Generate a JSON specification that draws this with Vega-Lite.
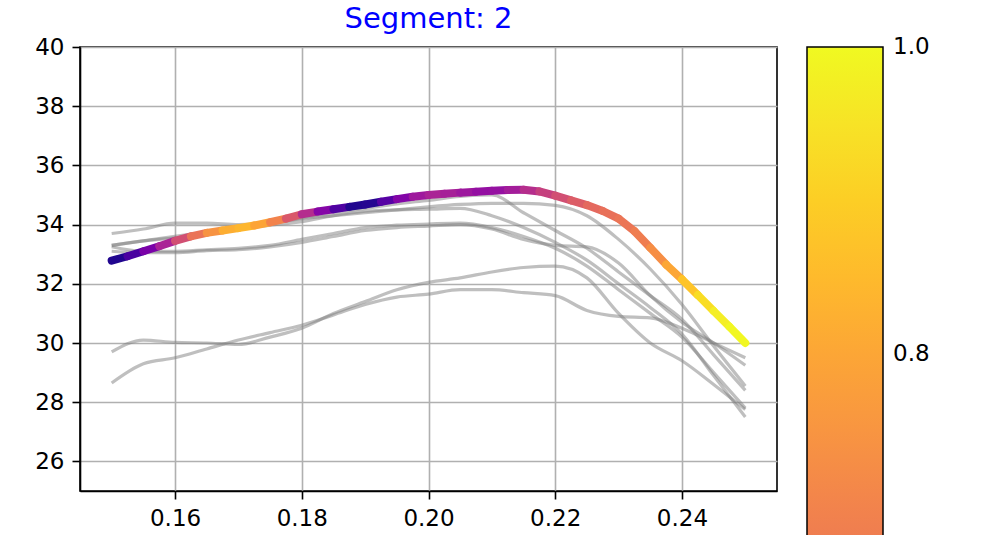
{
  "$schema": "https://vega.github.io/schema/vega-lite/v6.json",
  "autosize": {"type": "none"},
  "width": 697,
  "height": 444,
  "padding": {"left": 80, "top": 47, "right": 207, "bottom": 44},
  "background": "white",
  "title": {"text": "Segment: 2", "color": "blue", "fontSize": 29, "fontWeight": "normal", "font": "DejaVu Sans", "offset": 2, "anchor": "middle"},
  "config": {
    "font": "DejaVu Sans",
    "view": {"stroke": "black", "strokeWidth": 1.6},
    "axis": {"labelFont": "DejaVu Sans", "labelFontSize": 23, "labelColor": "black", "tickColor": "black", "tickWidth": 1.6, "tickSize": 8, "labelPadding": 8, "domainColor": "black", "domainWidth": 1.6, "gridColor": "#b0b0b0", "gridWidth": 1.6, "gridOpacity": 1, "title": null}
  },
  "datasets": {
    "gray": [
      {"id": 1, "x": 0.150, "y": 33.70}, {"id": 1, "x": 0.155, "y": 33.85}, {"id": 1, "x": 0.160, "y": 34.05}, {"id": 1, "x": 0.165, "y": 34.05}, {"id": 1, "x": 0.170, "y": 34.00}, {"id": 1, "x": 0.175, "y": 34.05}, {"id": 1, "x": 0.180, "y": 34.20}, {"id": 1, "x": 0.185, "y": 34.30}, {"id": 1, "x": 0.190, "y": 34.40}, {"id": 1, "x": 0.195, "y": 34.50}, {"id": 1, "x": 0.200, "y": 34.60}, {"id": 1, "x": 0.205, "y": 34.68}, {"id": 1, "x": 0.210, "y": 34.72}, {"id": 1, "x": 0.215, "y": 34.72}, {"id": 1, "x": 0.220, "y": 34.65}, {"id": 1, "x": 0.225, "y": 34.30}, {"id": 1, "x": 0.230, "y": 33.50}, {"id": 1, "x": 0.235, "y": 32.50}, {"id": 1, "x": 0.240, "y": 31.30}, {"id": 1, "x": 0.245, "y": 29.90}, {"id": 1, "x": 0.250, "y": 28.55},
      {"id": 2, "x": 0.150, "y": 33.30}, {"id": 2, "x": 0.155, "y": 33.45}, {"id": 2, "x": 0.160, "y": 33.60}, {"id": 2, "x": 0.165, "y": 33.75}, {"id": 2, "x": 0.170, "y": 33.90}, {"id": 2, "x": 0.175, "y": 34.05}, {"id": 2, "x": 0.180, "y": 34.22}, {"id": 2, "x": 0.185, "y": 34.40}, {"id": 2, "x": 0.190, "y": 34.55}, {"id": 2, "x": 0.195, "y": 34.70}, {"id": 2, "x": 0.200, "y": 34.82}, {"id": 2, "x": 0.205, "y": 34.95}, {"id": 2, "x": 0.210, "y": 35.00}, {"id": 2, "x": 0.215, "y": 34.40}, {"id": 2, "x": 0.220, "y": 33.80}, {"id": 2, "x": 0.225, "y": 33.20}, {"id": 2, "x": 0.230, "y": 32.40}, {"id": 2, "x": 0.235, "y": 31.60}, {"id": 2, "x": 0.240, "y": 30.80}, {"id": 2, "x": 0.245, "y": 29.60}, {"id": 2, "x": 0.250, "y": 28.40},
      {"id": 3, "x": 0.150, "y": 33.25}, {"id": 3, "x": 0.155, "y": 33.10}, {"id": 3, "x": 0.160, "y": 33.10}, {"id": 3, "x": 0.165, "y": 33.15}, {"id": 3, "x": 0.170, "y": 33.20}, {"id": 3, "x": 0.175, "y": 33.30}, {"id": 3, "x": 0.180, "y": 33.50}, {"id": 3, "x": 0.185, "y": 33.70}, {"id": 3, "x": 0.190, "y": 33.90}, {"id": 3, "x": 0.195, "y": 33.98}, {"id": 3, "x": 0.200, "y": 34.02}, {"id": 3, "x": 0.205, "y": 34.05}, {"id": 3, "x": 0.210, "y": 33.90}, {"id": 3, "x": 0.215, "y": 33.60}, {"id": 3, "x": 0.220, "y": 33.20}, {"id": 3, "x": 0.225, "y": 32.60}, {"id": 3, "x": 0.230, "y": 31.80}, {"id": 3, "x": 0.235, "y": 31.00}, {"id": 3, "x": 0.240, "y": 30.20}, {"id": 3, "x": 0.245, "y": 29.00}, {"id": 3, "x": 0.250, "y": 27.80},
      {"id": 4, "x": 0.150, "y": 33.10}, {"id": 4, "x": 0.155, "y": 33.05}, {"id": 4, "x": 0.160, "y": 33.05}, {"id": 4, "x": 0.165, "y": 33.12}, {"id": 4, "x": 0.170, "y": 33.15}, {"id": 4, "x": 0.175, "y": 33.25}, {"id": 4, "x": 0.180, "y": 33.40}, {"id": 4, "x": 0.185, "y": 33.60}, {"id": 4, "x": 0.190, "y": 33.80}, {"id": 4, "x": 0.195, "y": 33.90}, {"id": 4, "x": 0.200, "y": 33.95}, {"id": 4, "x": 0.205, "y": 34.00}, {"id": 4, "x": 0.210, "y": 33.85}, {"id": 4, "x": 0.215, "y": 33.50}, {"id": 4, "x": 0.220, "y": 33.30}, {"id": 4, "x": 0.225, "y": 33.25}, {"id": 4, "x": 0.230, "y": 32.70}, {"id": 4, "x": 0.235, "y": 31.60}, {"id": 4, "x": 0.240, "y": 30.70}, {"id": 4, "x": 0.245, "y": 30.00}, {"id": 4, "x": 0.250, "y": 29.25},
      {"id": 5, "x": 0.150, "y": 33.30}, {"id": 5, "x": 0.155, "y": 33.45}, {"id": 5, "x": 0.160, "y": 33.55}, {"id": 5, "x": 0.165, "y": 33.70}, {"id": 5, "x": 0.170, "y": 33.85}, {"id": 5, "x": 0.175, "y": 33.98}, {"id": 5, "x": 0.180, "y": 34.10}, {"id": 5, "x": 0.185, "y": 34.30}, {"id": 5, "x": 0.190, "y": 34.45}, {"id": 5, "x": 0.195, "y": 34.50}, {"id": 5, "x": 0.200, "y": 34.52}, {"id": 5, "x": 0.205, "y": 34.55}, {"id": 5, "x": 0.210, "y": 34.30}, {"id": 5, "x": 0.215, "y": 33.90}, {"id": 5, "x": 0.220, "y": 33.40}, {"id": 5, "x": 0.225, "y": 32.80}, {"id": 5, "x": 0.230, "y": 32.00}, {"id": 5, "x": 0.235, "y": 31.20}, {"id": 5, "x": 0.240, "y": 30.30}, {"id": 5, "x": 0.245, "y": 28.90}, {"id": 5, "x": 0.250, "y": 27.50},
      {"id": 6, "x": 0.150, "y": 29.70}, {"id": 6, "x": 0.155, "y": 30.10}, {"id": 6, "x": 0.160, "y": 30.02}, {"id": 6, "x": 0.165, "y": 30.00}, {"id": 6, "x": 0.170, "y": 29.95}, {"id": 6, "x": 0.175, "y": 30.20}, {"id": 6, "x": 0.180, "y": 30.50}, {"id": 6, "x": 0.185, "y": 31.00}, {"id": 6, "x": 0.190, "y": 31.40}, {"id": 6, "x": 0.195, "y": 31.80}, {"id": 6, "x": 0.200, "y": 32.05}, {"id": 6, "x": 0.205, "y": 32.20}, {"id": 6, "x": 0.210, "y": 32.40}, {"id": 6, "x": 0.215, "y": 32.55}, {"id": 6, "x": 0.220, "y": 32.60}, {"id": 6, "x": 0.225, "y": 32.20}, {"id": 6, "x": 0.230, "y": 31.00}, {"id": 6, "x": 0.235, "y": 30.00}, {"id": 6, "x": 0.240, "y": 29.40}, {"id": 6, "x": 0.245, "y": 28.60}, {"id": 6, "x": 0.250, "y": 27.75},
      {"id": 7, "x": 0.150, "y": 28.65}, {"id": 7, "x": 0.155, "y": 29.30}, {"id": 7, "x": 0.160, "y": 29.50}, {"id": 7, "x": 0.165, "y": 29.80}, {"id": 7, "x": 0.170, "y": 30.10}, {"id": 7, "x": 0.175, "y": 30.35}, {"id": 7, "x": 0.180, "y": 30.60}, {"id": 7, "x": 0.185, "y": 30.95}, {"id": 7, "x": 0.190, "y": 31.30}, {"id": 7, "x": 0.195, "y": 31.55}, {"id": 7, "x": 0.200, "y": 31.65}, {"id": 7, "x": 0.205, "y": 31.80}, {"id": 7, "x": 0.210, "y": 31.80}, {"id": 7, "x": 0.215, "y": 31.70}, {"id": 7, "x": 0.220, "y": 31.60}, {"id": 7, "x": 0.225, "y": 31.10}, {"id": 7, "x": 0.230, "y": 30.90}, {"id": 7, "x": 0.235, "y": 30.85}, {"id": 7, "x": 0.240, "y": 30.50}, {"id": 7, "x": 0.245, "y": 30.00}, {"id": 7, "x": 0.250, "y": 29.50}
    ],
    "seg": [
      {"x": 0.1500, "y": 32.78, "x2": 0.1525, "y2": 32.93, "c": 0.03},
      {"x": 0.1525, "y": 32.93, "x2": 0.1550, "y2": 33.10, "c": 0.12},
      {"x": 0.1550, "y": 33.10, "x2": 0.1575, "y2": 33.27, "c": 0.24},
      {"x": 0.1575, "y": 33.27, "x2": 0.1600, "y2": 33.45, "c": 0.375},
      {"x": 0.1600, "y": 33.45, "x2": 0.1625, "y2": 33.60, "c": 0.525},
      {"x": 0.1625, "y": 33.60, "x2": 0.1650, "y2": 33.72, "c": 0.65},
      {"x": 0.1650, "y": 33.72, "x2": 0.1675, "y2": 33.80, "c": 0.745},
      {"x": 0.1675, "y": 33.80, "x2": 0.1700, "y2": 33.88, "c": 0.82},
      {"x": 0.1700, "y": 33.88, "x2": 0.1725, "y2": 33.97, "c": 0.84},
      {"x": 0.1725, "y": 33.97, "x2": 0.1750, "y2": 34.08, "c": 0.795},
      {"x": 0.1750, "y": 34.08, "x2": 0.1775, "y2": 34.20, "c": 0.70},
      {"x": 0.1775, "y": 34.20, "x2": 0.1800, "y2": 34.35, "c": 0.56},
      {"x": 0.1800, "y": 34.35, "x2": 0.1825, "y2": 34.44, "c": 0.41},
      {"x": 0.1825, "y": 34.44, "x2": 0.1850, "y2": 34.52, "c": 0.27},
      {"x": 0.1850, "y": 34.52, "x2": 0.1875, "y2": 34.60, "c": 0.13},
      {"x": 0.1875, "y": 34.60, "x2": 0.1900, "y2": 34.68, "c": 0.03},
      {"x": 0.1900, "y": 34.68, "x2": 0.1925, "y2": 34.77, "c": 0.04},
      {"x": 0.1925, "y": 34.77, "x2": 0.1950, "y2": 34.86, "c": 0.15},
      {"x": 0.1950, "y": 34.86, "x2": 0.1975, "y2": 34.94, "c": 0.265},
      {"x": 0.1975, "y": 34.94, "x2": 0.2000, "y2": 35.00, "c": 0.34},
      {"x": 0.2000, "y": 35.00, "x2": 0.2025, "y2": 35.04, "c": 0.375},
      {"x": 0.2025, "y": 35.04, "x2": 0.2050, "y2": 35.08, "c": 0.365},
      {"x": 0.2050, "y": 35.08, "x2": 0.2075, "y2": 35.11, "c": 0.335},
      {"x": 0.2075, "y": 35.11, "x2": 0.2100, "y2": 35.14, "c": 0.31},
      {"x": 0.2100, "y": 35.14, "x2": 0.2125, "y2": 35.17, "c": 0.315},
      {"x": 0.2125, "y": 35.17, "x2": 0.2150, "y2": 35.18, "c": 0.355},
      {"x": 0.2150, "y": 35.18, "x2": 0.2175, "y2": 35.12, "c": 0.415},
      {"x": 0.2175, "y": 35.12, "x2": 0.2200, "y2": 34.98, "c": 0.475},
      {"x": 0.2200, "y": 34.98, "x2": 0.2225, "y2": 34.82, "c": 0.525},
      {"x": 0.2225, "y": 34.82, "x2": 0.2250, "y2": 34.66, "c": 0.575},
      {"x": 0.2250, "y": 34.66, "x2": 0.2275, "y2": 34.46, "c": 0.615},
      {"x": 0.2275, "y": 34.46, "x2": 0.2300, "y2": 34.20, "c": 0.64},
      {"x": 0.2300, "y": 34.20, "x2": 0.2325, "y2": 33.78, "c": 0.655},
      {"x": 0.2325, "y": 33.78, "x2": 0.2350, "y2": 33.22, "c": 0.68},
      {"x": 0.2350, "y": 33.22, "x2": 0.2375, "y2": 32.65, "c": 0.73},
      {"x": 0.2375, "y": 32.65, "x2": 0.2400, "y2": 32.15, "c": 0.80},
      {"x": 0.2400, "y": 32.15, "x2": 0.2425, "y2": 31.62, "c": 0.875},
      {"x": 0.2425, "y": 31.62, "x2": 0.2450, "y2": 31.08, "c": 0.935},
      {"x": 0.2450, "y": 31.08, "x2": 0.2475, "y2": 30.55, "c": 0.975},
      {"x": 0.2475, "y": 30.55, "x2": 0.2500, "y2": 30.00, "c": 0.995}
    ]
  },
  "layer": [
    {
      "data": {"name": "gray"},
      "mark": {"type": "line", "color": "#808080", "opacity": 0.5, "strokeWidth": 3.2, "interpolate": "monotone"},
      "encoding": {
        "x": {"field": "x", "type": "quantitative", "scale": {"domain": [0.145, 0.255], "nice": false, "zero": false}, "axis": {"values": [0.16, 0.18, 0.2, 0.22, 0.24], "format": ".2f"}},
        "y": {"field": "y", "type": "quantitative", "scale": {"domain": [25, 40], "nice": false, "zero": false}, "axis": {"values": [26, 28, 30, 32, 34, 36, 38, 40], "format": "d"}},
        "detail": {"field": "id", "type": "nominal"}
      }
    },
    {
      "data": {"name": "seg"},
      "mark": {"type": "rule", "strokeWidth": 8, "strokeCap": "round"},
      "encoding": {
        "x": {"field": "x", "type": "quantitative"},
        "y": {"field": "y", "type": "quantitative"},
        "x2": {"field": "x2"},
        "y2": {"field": "y2"},
        "color": {
          "field": "c", "type": "quantitative",
          "scale": {"scheme": "plasma", "domain": [0, 1]},
          "legend": {"orient": "none", "legendX": 727, "legendY": 0, "direction": "vertical", "gradientLength": 1535, "gradientThickness": 76, "title": null, "values": [0.8, 1.0], "format": ".1f", "labelFontSize": 23, "labelColor": "black", "labelOffset": 10, "gradientStrokeColor": "black", "gradientStrokeWidth": 1.5,
            "encode": {"labels": {"update": {"baseline": {"value": "middle"}}}}}
        }
      }
    }
  ]
}
